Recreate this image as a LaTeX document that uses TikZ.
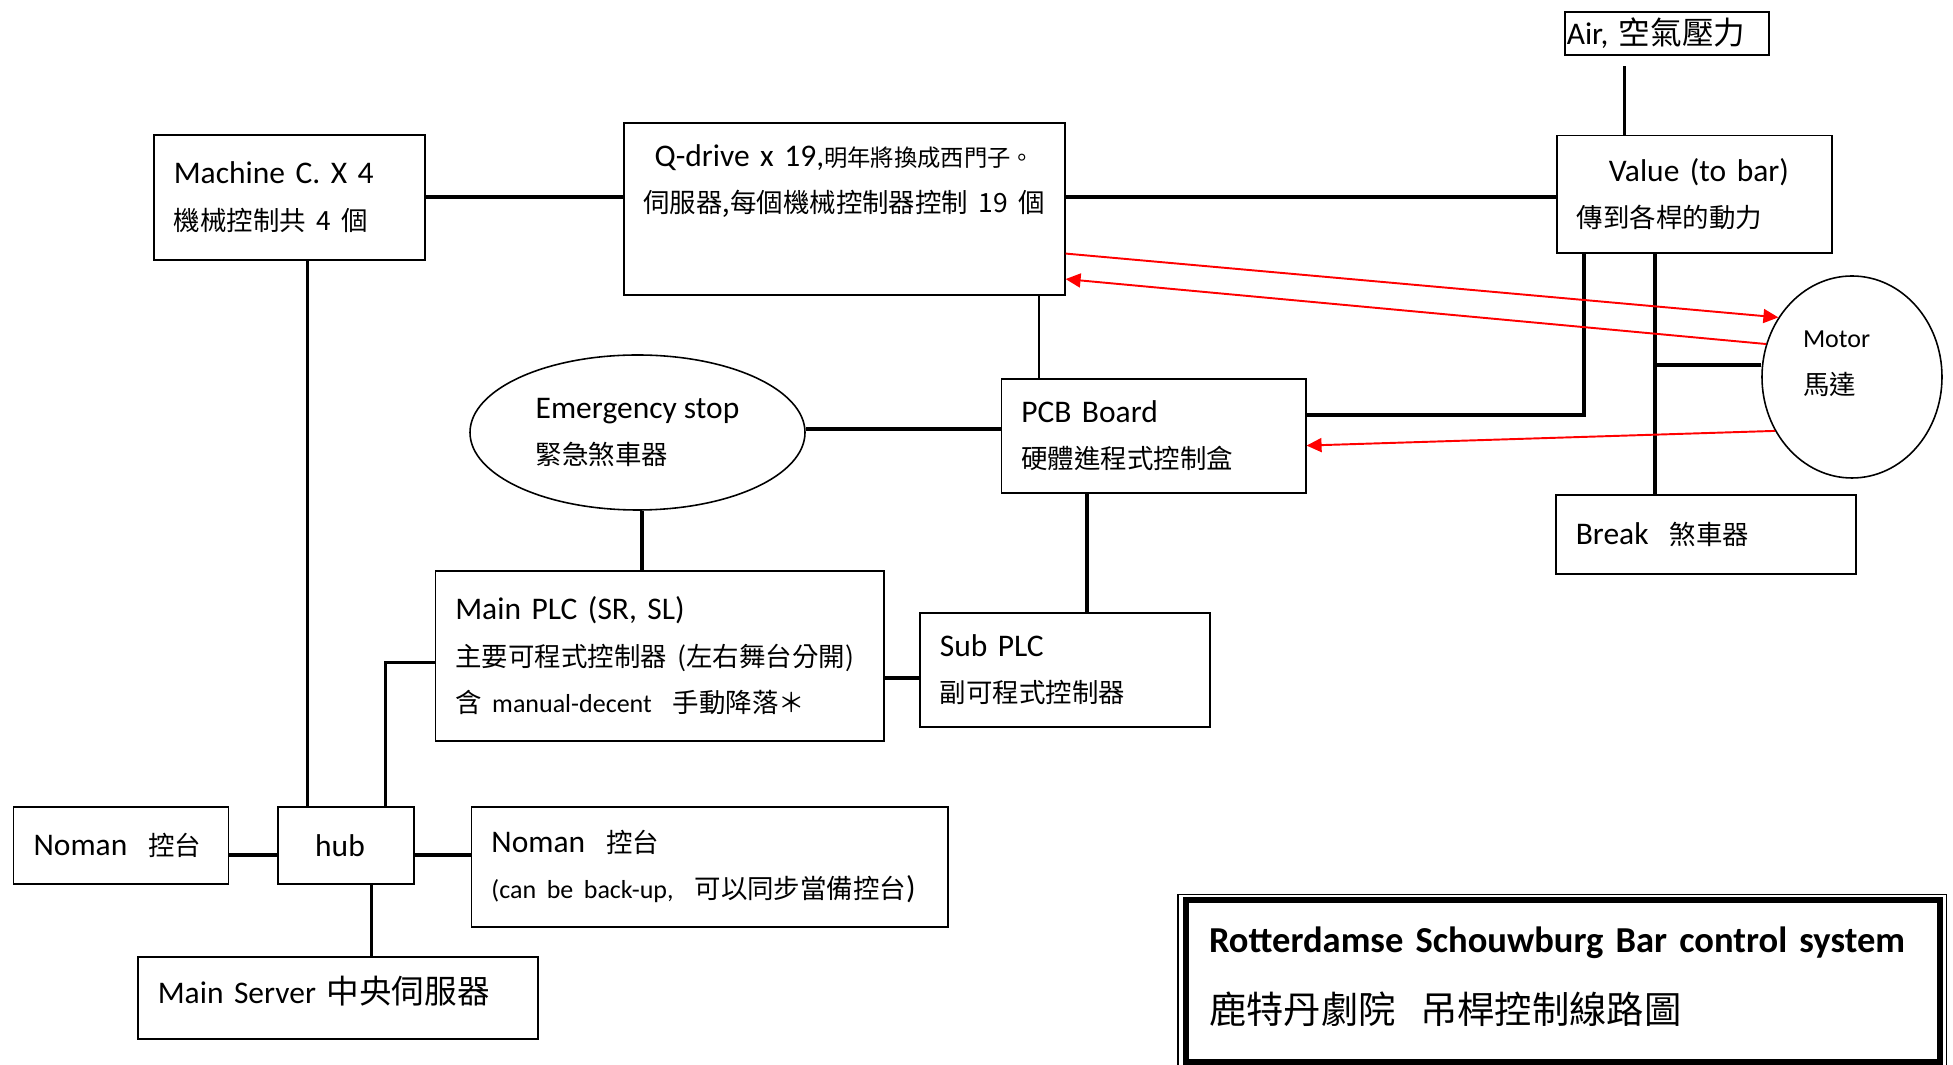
\documentclass[tikz,border=0pt]{standalone}
\usepackage{fontspec}
\setmainfont{Carlito}
\newfontfamily\cjk[Scale=0.84]{Noto Sans CJK TC}
\usetikzlibrary{shapes.geometric,arrows.meta}
\newcommand{\boxfont}{\fontsize{8.96}{13.2}\selectfont}
\newcommand{\smallfont}{\fontsize{7.4}{13.2}\selectfont}

\begin{document}
\begin{tikzpicture}[
        % 方框：左上角定位，文字靠左
        box/.style={draw, line width=0.45pt, anchor=north west, align=left,
            inner xsep=0.2cm, inner ysep=0pt, font=\boxfont},
        oval/.style={draw, ellipse, line width=0.45pt, inner sep=0pt,
            align=left, font=\boxfont},
        wire/.style={line width=1.15pt},  % 粗连线
        wire2/.style={line width=0.95pt}, % 中等连线
        sig/.style={red, line width=0.55pt, -{Triangle[length=1.5mm,width=1.4mm]}}
    ]
    \useasboundingbox (0,0) rectangle (19.53,10.65);

    % --- 上方一排 ---
    \node[box, text width=2.31cm, minimum height=1.25cm] (machine) at (1.53,9.31)
        {Machine C. X 4\\{\cjk 機械控制共 4 個}};
    \node[box, align=center, inner xsep=0.1cm, text width=4.21cm, minimum height=1.72cm] (qdrive) at (6.23,9.43)
        {Q-drive x 19,{\cjk\fontsize{7.9}{13.2}\selectfont 明年將換成西門子。}\\{\cjk 伺服器,每個機械控制器控制 19 個}\\\strut};
    \node[box, inner xsep=0.02cm, text width=2.0cm, minimum height=0.43cm] (air) at (15.64,10.54)
        {Air, {\cjk\fontsize{10.7}{13.2}\selectfont 空氣壓力}};
    \node[box, text width=2.35cm, minimum height=1.175cm] (value) at (15.56,9.304)
        {\hspace*{0.32cm}Value (to bar)\\{\cjk 傳到各桿的動力}};

    % --- 中间一排 ---
    \node[oval, minimum width=1.8cm, minimum height=2.02cm, text width=0.98cm] (motor) at (18.52,6.88)
        {{\smallfont Motor}\\{\cjk 馬達}\\[-5pt]\mbox{}};
    \node[box, text width=2.645cm, minimum height=1.14cm] (pcb) at (10.005,6.87)
        {PCB Board\\{\cjk 硬體進程式控制盒}};
    \node[oval, minimum width=3.35cm, minimum height=1.55cm] (emerg) at (6.375,6.325)
        {Emergency stop\\{\cjk 緊急煞車器}};
    \node[box, text width=2.6cm, minimum height=0.79cm] (brk) at (15.55,5.71)
        {Break\ \ {\cjk 煞車器}};
    \node[box, text width=4.085cm, minimum height=1.70cm] (mainplc) at (4.345,4.95)
        {Main PLC (SR, SL)\\{\cjk 主要可程式控制器~(左右舞台分開)}\\{\cjk 含} {\smallfont manual-decent}\ \ {\cjk 手動降落＊}};
    \node[box, text width=2.5cm, minimum height=1.14cm] (subplc) at (9.19,4.53)
        {Sub PLC\\{\cjk 副可程式控制器}};

    % --- 下方 ---
    \node[box, text width=1.75cm, minimum height=0.77cm] (nomanl) at (0.128,2.59)
        {Noman\ \ {\cjk 控台}};
    \node[box, inner xsep=0.37cm, text width=0.62cm, minimum height=0.77cm] (hub) at (2.774,2.59) {hub};
    \node[box, text width=4.363cm, minimum height=1.20cm] (nomanr) at (4.707,2.59)
        {Noman\ \ {\cjk 控台}\\{\smallfont (can be back-up,}\ \ {\cjk 可以同步當備控台})};
    \node[box, text width=3.6cm, minimum height=0.82cm] (server) at (1.37,1.09)
        {Main Server {\cjk\fontsize{11.05}{13.2}\selectfont 中央伺服器}\\[-8.5pt]\mbox{}};

    % --- 标题框（外细内粗） ---
    \node[box, line width=0.6mm, outer sep=0pt, inner xsep=0.235cm, text width=7.075cm,
        minimum height=1.615cm, font=\fontsize{10.4}{20.2}\selectfont] (title) at (11.855,1.645)
        {\textbf{Rotterdamse Schouwburg Bar control system}\\{\cjk\fontsize{12.65}{20.2}\selectfont 鹿特丹劇院\ \ 吊桿控制線路圖}\\[-17pt]\mbox{}};
    \draw[line width=0.3pt] ([shift={(-0.075,0.06)}]title.north west) rectangle ([shift={(0.065,-0.07)}]title.south east);

    % --- 连线 ---
    \draw[wire] (machine.east) -- (machine.east -| qdrive.west);
    \draw[wire] (qdrive.east |- machine.east) -- (value.west |- machine.east);
    \draw[wire2] ([xshift=-0.42cm,yshift=-0.105cm]air.south) -- ([xshift=-0.42cm]air.south |- value.north);
    \draw[wire2] ([xshift=0.3cm]hub.north west) -- ([xshift=0.3cm]hub.north west |- machine.south);
    \draw[wire2] ([yshift=-0.07cm]mainplc.west) -| ([xshift=1.08cm]hub.north west);
    \draw[wire] ([yshift=-0.1cm]hub.west) -- ([yshift=-0.1cm]hub.west -| nomanl.east);
    \draw[wire] ([yshift=-0.1cm]hub.east) -- ([yshift=-0.1cm]hub.east -| nomanr.west);
    \draw[wire2] ([xshift=0.94cm]hub.south west) -- ([xshift=0.94cm]hub.south west |- server.north);
    \draw[wire] ([yshift=0.07cm]pcb.west) -- ([yshift=0.07cm]pcb.west -| emerg.east);
    \draw[wire2] ([xshift=0.045cm]emerg.south) -- ([xshift=0.045cm]emerg.south |- mainplc.north);
    \draw[wire] ([yshift=-0.08cm]subplc.west) -- ([yshift=-0.08cm]subplc.west -| mainplc.east);
    \draw[line width=0.3pt] ([xshift=0.385cm]pcb.north west) -- ([xshift=0.385cm]pcb.north west |- qdrive.south);
    \draw[wire2] ([xshift=0.865cm]pcb.south west) -- ([xshift=0.865cm]pcb.south west |- subplc.north);
    \draw[wire] ([yshift=0.21cm]pcb.east) -| ([xshift=0.28cm]value.south west);

    % 阀门往下接刹车，中途接马达
    \coordinate (vb) at ([xshift=0.99cm]value.south west);
    \draw[wire2] (vb) -- (vb |- brk.north);
    \draw[wire] ([yshift=0.12cm]motor.west) -- ([yshift=0.12cm]motor.west -| vb);

    % --- 红色信号箭头 ---
    \draw[sig] ([yshift=0.42cm]qdrive.south east) -- (motor.141);
    \draw[sig] (motor.159) -- ([yshift=0.165cm]qdrive.south east);
    \draw[sig] (motor.215) -- ([yshift=0.48cm]pcb.south east);

\end{tikzpicture}
\end{document}
